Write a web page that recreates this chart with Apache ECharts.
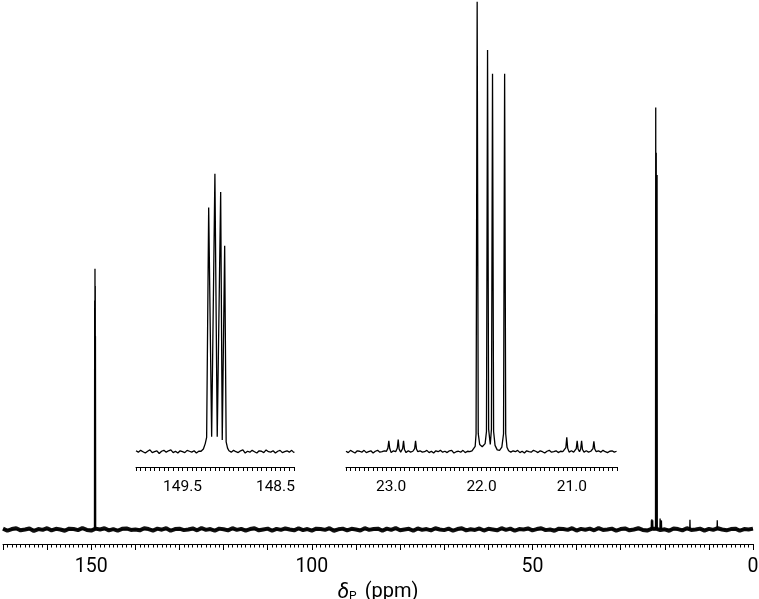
<!DOCTYPE html>
<html>
<head>
<meta charset="utf-8">
<script src="https://cdn.jsdelivr.net/npm/echarts@6/dist/echarts.min.js"></script>
<style>html,body{margin:0;padding:0;background:#fff}#c{width:759px;height:599px}</style>
</head>
<body>
<div id="c"></div>
<script>
// ---------- main spectrum (ppm, intensity) ----------
const mainRange = [0, 170];
const mainPeakPpm    = [149.218, 149.151, 149.089, 149.046, 23.026, 22.922, 22.863, 22.730, 22.048, 21.933, 21.878, 21.744, 21.056, 20.941, 20.892, 20.756, 14.29, 8.10];
const mainPeakHeight = [54.3, 61.8, 57.7, 45.8, 2.2, 2.4, 2.2, 2.2, 100, 89.3, 84, 84, 2.6, 2.2, 2.2, 2.1, 2.3, 2.2];
const mainNoiseStart = 170, mainNoiseStep = 1;
const mainNoise = [
 0.2,-0.3,0.1,0.3,-0.2,0.0,0.25,-0.35,0.1,-0.1,0.3,-0.2,0.15,0.0,-0.3,0.2,0.1,-0.15,0.35,-0.1,
 -0.25,0.2,0.0,0.3,-0.2,0.1,-0.3,0.15,0.25,-0.1,0.0,-0.2,0.3,0.1,-0.25,0.2,-0.05,0.3,-0.3,0.1,
 0.2,-0.15,0.0,0.25,-0.2,0.35,-0.1,0.1,-0.3,0.2,0.05,-0.2,0.3,-0.1,0.15,-0.25,0.1,0.3,-0.2,0.0,
 0.2,-0.3,0.15,-0.1,0.25,0.0,-0.2,0.3,-0.15,0.1,-0.25,0.2,0.1,-0.1,0.3,-0.3,0.05,0.2,-0.2,0.15,
 0.0,-0.25,0.3,-0.1,0.1,0.2,-0.3,0.2,-0.1,0.35,-0.2,0.0,0.15,-0.3,0.25,-0.1,0.1,-0.2,0.3,0.0,
 -0.15,0.2,-0.3,0.1,0.3,-0.2,0.05,-0.1,0.25,-0.25,0.15,0.0,-0.2,0.3,-0.1,0.2,-0.3,0.1,0.0,0.25,
 -0.2,0.1,0.3,-0.15,0.0,-0.3,0.2,0.1,-0.1,0.3,-0.25,0.15,-0.05,0.2,-0.2,0.35,-0.1,0.0,0.2,-0.3,
 0.1,0.25,-0.2,0.0,0.3,-0.1,-0.25,0.15,0.2,-0.15,0.05,-0.3,0.25,0.1,-0.2,0.3,-0.1,0.0,0.2,-0.25,
 0.15,-0.1,0.3,0.0,-0.2,0.1,0.2,-0.3,0.1,0.0,0.2];

// ---------- inset 1 (149 ppm region) ----------
const inset1Range = [148.3, 150.0];
const inset1NoiseLeft  = [0.2,-0.1,0.3,0.0,-0.3,0.1,0.4,-0.2,0.0,0.2,-0.4,0.1,0.3,-0.1,0.2,0.4,-0.2,0.1,-0.3,0.2,0.0,-0.2,0.3,0.1,-0.1,0.2,-0.3,0.1];
const inset1Signal = [[149.30,0.1],[149.275,0.6],[149.255,1.8],[149.240,3.2],[149.218,54.3],[149.186,3.3],[149.151,61.8],[149.126,3.3],[149.089,57.7],[149.072,2.6],[149.046,45.8],[149.030,2.2],[149.015,0.8],[149.000,0.2]];
const inset1NoiseRight = [-0.1,0.3,0.0,-0.2,0.2,0.4,-0.3,0.1,-0.1,0.3,0.0,-0.3,0.2,0.1,-0.2,0.4,0.0,-0.1,0.2,-0.3,0.1,0.3,-0.2,0.0,0.2,-0.1,0.3,-0.2];

// ---------- inset 2 (22 ppm region) ----------
const inset2Range = [20.5, 23.5];
const inset2NoiseA = [0.1,-0.2,0.3,0.0,-0.3,0.2,0.1,-0.1,0.3,-0.2,0.0,0.2,-0.3,0.1,0.3,-0.1,0.0,0.2];
const inset2SatLeft = [[23.052,0.1],[23.036,0.8],[23.026,2.4],[23.016,0.7],[23.0,-0.2],[22.975,0.2],[22.950,0.0],[22.932,0.8],[22.922,2.7],[22.912,0.6],[22.895,-0.1],[22.873,0.7],[22.863,2.4],[22.853,0.5],[22.835,-0.2],[22.810,0.2],[22.785,-0.1],[22.760,0.1],[22.740,0.7],[22.730,2.4],[22.720,0.6],[22.705,0.0]];
const inset2NoiseB = [0.2,-0.1,0.0,0.3,-0.2,0.1,-0.3,0.2,0.0,0.3,-0.1,0.1,-0.2,0.2,0.3,-0.3,0.0,0.1,-0.1,0.3,-0.2,0.1,0.0,0.2];
const inset2Main = [[22.085,0.2],[22.070,1.2],[22.060,4],[22.048,100],[22.036,4],[22.020,1.6],[21.992,1.1],[21.960,1.8],[21.945,4.5],[21.933,89.3],[21.921,5],[21.903,1.6],[21.890,5],[21.878,84],[21.866,4.5],[21.850,1.4],[21.826,0.4],[21.800,0.3],[21.775,1.0],[21.756,4],[21.744,84],[21.732,4],[21.718,1.0],[21.700,0.2]];
const inset2NoiseC = [-0.1,0.2,0.0,0.3,-0.2,0.1,-0.3,0.2,0.0,-0.1,0.3,0.1,-0.2,0.2,0.0,-0.3,0.1,0.3,-0.1,0.0,0.2,-0.2,0.1,0.0];
const inset2SatRight = [[21.080,0.1],[21.066,0.9],[21.056,3.2],[21.046,0.8],[21.030,-0.1],[21.005,0.2],[20.980,-0.1],[20.960,0.1],[20.951,0.7],[20.941,2.4],[20.931,0.6],[20.915,0.0],[20.902,0.6],[20.892,2.4],[20.882,0.5],[20.865,-0.1],[20.840,0.2],[20.815,-0.1],[20.790,0.1],[20.766,0.7],[20.756,2.3],[20.746,0.6],[20.730,0.0]];
const inset2NoiseD = [0.2,-0.1,0.3,0.0,-0.2,0.1,0.2,-0.1,0.1];

// ---------- helpers ----------
function noisePts(start, step, vals) {
  return vals.map((v, i) => [+(start - i * step).toFixed(4), v]);
}
function byPpmDesc(a, b) { return b[0] - a[0]; }

const mainNoiseData = noisePts(mainNoiseStart, mainNoiseStep, mainNoise);
const spikeHalf = 0.05;
const mainSpikeData = [[mainRange[1], 0]];
mainPeakPpm.map((p, i) => [p, mainPeakHeight[i]]).sort(byPpmDesc).forEach(([p, h]) => {
  mainSpikeData.push([p + spikeHalf, 0], [p, h], [p - spikeHalf, 0]);
});
mainSpikeData.push([mainRange[0], 0]);

const inset1Data = [].concat(
  noisePts(150.0, 0.025, inset1NoiseLeft),
  inset1Signal,
  noisePts(148.975, 0.025, inset1NoiseRight),
  [[148.3, 0.0]]
);
const inset2Data = [].concat(
  noisePts(23.5, 0.025, inset2NoiseA),
  inset2SatLeft,
  noisePts(22.68, 0.025, inset2NoiseB),
  inset2Main,
  noisePts(21.675, 0.025, inset2NoiseC),
  inset2SatRight,
  noisePts(20.705, 0.025, inset2NoiseD),
  [[20.5, 0.1]]
);

const FONT = 'Roboto';
const black = '#000';

function insetAxis(gridIndex, range, fmt) {
  return {
    type: 'value', gridIndex, min: range[0], max: range[1], inverse: true,
    interval: 0.05,
    axisLine: { show: true, onZero: false, lineStyle: { color: black, width: 1 } },
    axisTick: { show: true, length: 4, lineStyle: { color: black, width: 1 } },
    minorTick: { show: false },
    splitLine: { show: false },
    axisLabel: { show: true, margin: 12, color: black, fontFamily: FONT, fontSize: 15.5, formatter: fmt, showMinLabel: true, showMaxLabel: true, hideOverlap: false }
  };
}

const option = {
  animation: false,
  backgroundColor: '#fff',
  grid: [
    { left: 3, right: 6, top: 0, bottom: 55, outerBoundsMode: 'none', containLabel: false },
    { left: 136, width: 158, top: 0, bottom: 132, outerBoundsMode: 'none', containLabel: false },
    { left: 346, width: 271, top: 0, bottom: 132, outerBoundsMode: 'none', containLabel: false }
  ],
  xAxis: [
    {
      type: 'value', gridIndex: 0, min: mainRange[0], max: mainRange[1], inverse: true,
      interval: 10,
      axisLine: { show: true, onZero: false, lineStyle: { color: black, width: 1 } },
      axisTick: { show: true, length: 6, lineStyle: { color: black, width: 1 } },
      minorTick: { show: true, splitNumber: 10, length: 3.5, lineStyle: { color: black, width: 1 } },
      splitLine: { show: false },
      axisLabel: {
        margin: 13, color: black, fontFamily: FONT, fontSize: 19.5, hideOverlap: false,
        formatter: v => (Math.round(v) % 50 === 0 ? String(Math.round(v)) : '')
      },
      name: '{i|δ}{s|P} (ppm)',
      nameLocation: 'middle',
      nameGap: 33,
      nameTextStyle: {
        color: black, fontFamily: FONT, fontSize: 20,
        rich: {
          i: { fontStyle: 'italic', fontFamily: FONT, fontSize: 21, color: black },
          s: { fontFamily: FONT, fontSize: 12, color: black, verticalAlign: 'bottom', padding: [0, 3, 0, 0] }
        }
      }
    },
    insetAxis(1, inset1Range, v => (Math.abs((v - 0.5) - Math.round(v - 0.5)) < 1e-6 ? v.toFixed(1) : '')),
    insetAxis(2, inset2Range, v => (Math.abs(v - Math.round(v)) < 1e-6 ? v.toFixed(1) : ''))
  ],
  yAxis: [
    { type: 'value', gridIndex: 0, min: -3.44, max: 125.5, show: false },
    { type: 'value', gridIndex: 1, min: -3.4, max: 100.4, show: false },
    { type: 'value', gridIndex: 2, min: -3.4, max: 100.4, show: false }
  ],
  series: [
    { type: 'line', xAxisIndex: 0, yAxisIndex: 0, data: mainNoiseData, showSymbol: false, symbol: 'none',
      lineStyle: { color: '#111', width: 4 }, silent: true },
    { type: 'line', xAxisIndex: 0, yAxisIndex: 0, data: mainSpikeData, showSymbol: false, symbol: 'none',
      lineStyle: { color: '#000', width: 1.3 }, silent: true },
    { type: 'line', xAxisIndex: 1, yAxisIndex: 1, data: inset1Data, showSymbol: false, symbol: 'none',
      lineStyle: { color: '#000', width: 1.3 }, silent: true },
    { type: 'line', xAxisIndex: 2, yAxisIndex: 2, data: inset2Data, showSymbol: false, symbol: 'none',
      lineStyle: { color: '#000', width: 1.3 }, silent: true }
  ]
};

const chart = echarts.init(document.getElementById('c'), null, { renderer: 'canvas' });
chart.setOption(option);
</script>
</body>
</html>
